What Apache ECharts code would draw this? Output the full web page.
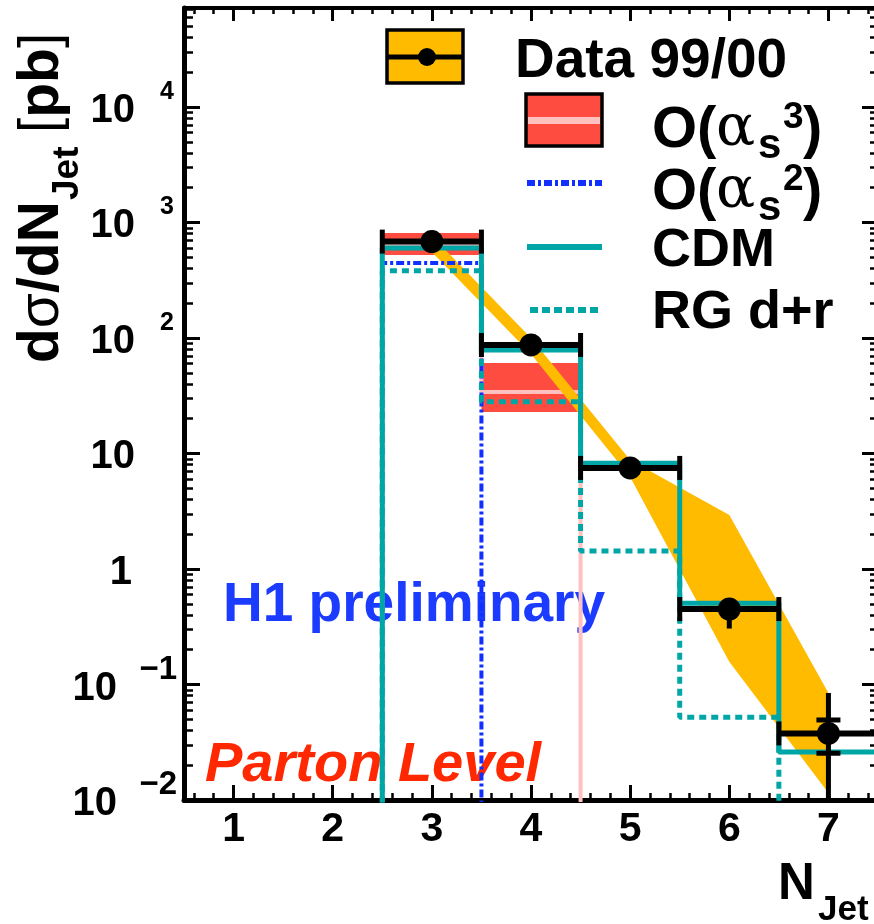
<!DOCTYPE html>
<html>
<head>
<meta charset="utf-8">
<script src="https://cdn.jsdelivr.net/npm/echarts@6/dist/echarts.min.js"></script>
<style>
html,body{margin:0;padding:0;background:#fff;}
#chart{width:874px;height:924px;}
</style>
</head>
<body>
<div id="chart"></div>
<script>
// ---- data ----
const binEdges = [2.5, 3.5, 4.5, 5.5, 6.5, 7.5];
const nJet = [3, 4, 5, 6, 7];
const dataY = [683, 87, 7.5, 0.45, 0.0377];
const dataTotLo = [655, 83, 7.1, 0.305, 0.001];
const dataTotHi = [712, 91, 7.9, 0.56, 0.0845];
const dataStatLo = [null, null, null, null, 0.0254];
const dataStatHi = [null, null, null, null, 0.0493];
const bandLo = [556, 72.6, 6.27, 0.157, 0.0115];
const bandHi = [764, 100, 8.8, 2.94, 0.0845];
const as3Lo = [524, 22.9, 0, 0, 0];
const as3Hi = [811, 60.8, 0, 0, 0];
const as3Mid = [651, 34, 0, 0, 0];
const as2 = [447, 0, 0, 0, 0];
const cdm = [601, 78.7, 8.24, 0.505, 0.026];
const rgdr = [383, 28.1, 1.43, 0.052, 0];
const xTickVals = [1, 2, 3, 4, 5, 6, 7];
const yTickVals = [0.01, 0.1, 1, 10, 100, 1000, 10000];

// ---- styling ----
const FONT = '"Liberation Sans", Arial, Helvetica, sans-serif';
const C_YEL = '#FFBB00', C_RED = '#FF4C40', C_PINK = '#FFC0C0', C_TEAL = '#00A6A6', C_BLUE = '#1030FF';
const YMIN = 0.01, YMAX = 71945, XMIN = 0.5, XMAX = 7.5;

// minor tick positions (axis decoration)
const yMinor = [];
for (let k = -2; k <= 4; k++) for (let m = 2; m <= 9; m++) { const v = m * Math.pow(10, k); if (v < YMAX) yMinor.push(v); }
const xMinor = [];
for (let i = 0; i < 35; i++) { const v = Math.round((0.6 + i * 0.2) * 10) / 10; if (v < XMAX && Math.abs(v - Math.round(v)) > 1e-6) xMinor.push(v); }

const FLOOR = 1e-4;
function stepPoints(vals) {
  const pts = [[binEdges[0], FLOOR]];
  vals.forEach((v, i) => { const y = v > 0 ? v : FLOOR; pts.push([binEdges[i], y], [binEdges[i + 1], y]); });
  pts.push([binEdges[binEdges.length - 1], FLOOR]);
  return pts;
}

function yLabel(v) {
  const e = Math.round(Math.log10(v));
  if (e === 0) return '{u|1}';
  if (e === 1) return '{t0|10}';
  if (e > 0) return '{e|' + e + '}\n{t|10}';
  return '{en|\u2212' + (-e) + '}\n{tn|10}';
}

function txt(x, y, text, font, extra) {
  return Object.assign({ type: 'text', x: x, y: y, silent: true,
    style: { text: text, font: font, fill: '#000', align: 'left', verticalAlign: 'middle', textAlign: 'left', textVerticalAlign: 'middle' } }, extra || {});
}

const chart = echarts.init(document.getElementById('chart'), null, { renderer: 'canvas' });

const grid = { left: 184, top: 8, width: 694, height: 792, outerBoundsMode: 'none', containLabel: false };

const baseX = { type: 'value', min: XMIN, max: XMAX, splitLine: { show: false }, gridIndex: 0 };
const baseY = { type: 'log', logBase: 10, min: YMIN, max: YMAX, splitLine: { show: false }, gridIndex: 0 };

const option = {
  animation: false,
  backgroundColor: '#ffffff',
  grid: grid,
  xAxis: [
    Object.assign({}, baseX, {
      position: 'bottom',
      axisLine: { show: true, onZero: false, lineStyle: { color: '#000', width: 5 } },
      axisTick: { show: true, inside: true, length: 15, lineStyle: { color: '#000', width: 3 }, customValues: xTickVals },
      axisLabel: { show: true, customValues: xTickVals, margin: 9, color: '#000', fontFamily: FONT, fontWeight: 'bold', fontSize: 41, lineHeight: 41, hideOverlap: false }
    }),
    Object.assign({}, baseX, {
      position: 'bottom',
      axisLine: { show: false, onZero: false },
      axisTick: { show: true, inside: true, length: 7, lineStyle: { color: '#000', width: 2.5 }, customValues: xMinor },
      axisLabel: { show: false }
    }),
    Object.assign({}, baseX, {
      position: 'top',
      axisLine: { show: true, onZero: false, lineStyle: { color: '#000', width: 4 } },
      axisTick: { show: true, inside: true, length: 13, lineStyle: { color: '#000', width: 3 }, customValues: xTickVals },
      axisLabel: { show: false }
    }),
    Object.assign({}, baseX, {
      position: 'top',
      axisLine: { show: false, onZero: false },
      axisTick: { show: true, inside: true, length: 6, lineStyle: { color: '#000', width: 2.5 }, customValues: xMinor },
      axisLabel: { show: false }
    })
  ],
  yAxis: [
    Object.assign({}, baseY, {
      position: 'left',
      axisLine: { show: true, onZero: false, lineStyle: { color: '#000', width: 5 } },
      axisTick: { show: true, inside: true, length: 16, lineStyle: { color: '#000', width: 3 }, customValues: yTickVals },
      axisLabel: {
        show: true, customValues: yTickVals, margin: 6, hideOverlap: false,
        formatter: yLabel, color: '#000', fontFamily: FONT, fontWeight: 'bold', fontSize: 40,
        rich: {
          e:  { fontFamily: FONT, fontWeight: 'bold', fontSize: 25, lineHeight: 9, align: 'right', padding: [0, 4, 0, 0], color: '#000' },
          t:  { fontFamily: FONT, fontWeight: 'bold', fontSize: 40, lineHeight: 30, align: 'right', padding: [0, 43, 2, 0], color: '#000' },
          en: { fontFamily: FONT, fontWeight: 'bold', fontSize: 33, lineHeight: 46, align: 'right', padding: [0, 1, 0, 0], color: '#000' },
          tn: { fontFamily: FONT, fontWeight: 'bold', fontSize: 40, lineHeight: 30, align: 'right', padding: [0, 61, 38, 0], color: '#000' },
          t0: { fontFamily: FONT, fontWeight: 'bold', fontSize: 40, lineHeight: 30, align: 'right', padding: [7, 43, 0, 0], color: '#000' },
          u:  { fontFamily: FONT, fontWeight: 'bold', fontSize: 40, lineHeight: 30, align: 'right', padding: [7, 46, 0, 0], color: '#000' }
        }
      }
    }),
    Object.assign({}, baseY, {
      position: 'left',
      axisLine: { show: false, onZero: false },
      axisTick: { show: true, inside: true, length: 9, lineStyle: { color: '#000', width: 2.5 }, customValues: yMinor },
      axisLabel: { show: false }
    }),
    Object.assign({}, baseY, {
      position: 'right',
      axisLine: { show: true, onZero: false, lineStyle: { color: '#000', width: 4 } },
      axisTick: { show: true, inside: true, length: 16, lineStyle: { color: '#000', width: 3 }, customValues: yTickVals },
      axisLabel: { show: false }
    }),
    Object.assign({}, baseY, {
      position: 'right',
      axisLine: { show: false, onZero: false },
      axisTick: { show: true, inside: true, length: 8, lineStyle: { color: '#000', width: 2.5 }, customValues: yMinor },
      axisLabel: { show: false }
    })
  ],
  series: [
    // O(alpha_s^3) uncertainty band
    {
      type: 'custom', name: 'as3band', z: 2, clip: true,
      data: as3Hi.map((h, i) => [binEdges[i], binEdges[i + 1], as3Lo[i], h]).filter(r => r[3] > 0),
      encode: { x: [0, 1], y: [2, 3] },
      renderItem: function (params, api) {
        const p0 = api.coord([api.value(0), api.value(3)]);
        const p1 = api.coord([api.value(1), api.value(2)]);
        return { type: 'rect', shape: { x: p0[0], y: p0[1], width: p1[0] - p0[0], height: p1[1] - p0[1] }, style: { fill: C_RED } };
      }
    },
    // O(alpha_s^3) central
    {
      type: 'line', name: 'as3mid', z: 3, data: stepPoints(as3Mid), showSymbol: false, symbol: 'none', clip: true,
      lineStyle: { color: C_PINK, width: 4 }
    },
    // data systematic band
    {
      type: 'custom', name: 'band', z: 4, clip: true,
      data: nJet.map((x, i) => [x, bandLo[i], bandHi[i]]),
      encode: { x: 0, y: [1, 2] },
      renderItem: function (params, api) {
        if (params.dataIndex !== 0) return null;
        const pts = [];
        for (let i = 0; i < nJet.length; i++) pts.push(api.coord([nJet[i], bandHi[i]]));
        for (let i = nJet.length - 1; i >= 0; i--) pts.push(api.coord([nJet[i], bandLo[i]]));
        return { type: 'polygon', shape: { points: pts }, style: { fill: C_YEL } };
      }
    },
    // O(alpha_s^2)
    {
      type: 'line', name: 'as2', z: 5, data: stepPoints(as2), showSymbol: false, symbol: 'none', clip: true,
      lineStyle: { color: C_BLUE, width: 4, type: [8, 3, 3, 3] }
    },
    // RG d+r
    {
      type: 'line', name: 'rg', z: 6, data: stepPoints(rgdr), showSymbol: false, symbol: 'none', clip: true,
      lineStyle: { color: C_TEAL, width: 5, type: [7, 5] }
    },
    // CDM
    {
      type: 'line', name: 'cdm', z: 7, data: stepPoints(cdm), showSymbol: false, symbol: 'none', clip: true,
      lineStyle: { color: C_TEAL, width: 5 }
    },
    // data error bars
    {
      type: 'custom', name: 'dataerr', z: 8, clip: true,
      data: nJet.map((x, i) => [x, dataY[i], binEdges[i], binEdges[i + 1], dataTotLo[i], dataTotHi[i]]),
      encode: { x: [0, 2, 3], y: [1, 4, 5] },
      renderItem: function (params, api) {
        const i = params.dataIndex;
        const c = api.coord([nJet[i], dataY[i]]);
        const l = api.coord([binEdges[i], dataY[i]]);
        const r = api.coord([binEdges[i + 1], dataY[i]]);
        const lo = api.coord([nJet[i], dataTotLo[i]]);
        const hi = api.coord([nJet[i], dataTotHi[i]]);
        const ch = [
          { type: 'line', shape: { x1: l[0], y1: c[1], x2: r[0], y2: c[1] }, style: { stroke: '#000', lineWidth: 6 } },
          { type: 'line', shape: { x1: l[0], y1: c[1] - 12, x2: l[0], y2: c[1] + 12 }, style: { stroke: '#000', lineWidth: 5 } },
          { type: 'line', shape: { x1: r[0], y1: c[1] - 12, x2: r[0], y2: c[1] + 12 }, style: { stroke: '#000', lineWidth: 5 } },
          { type: 'line', shape: { x1: c[0], y1: hi[1], x2: c[0], y2: lo[1] }, style: { stroke: '#000', lineWidth: 5 } }
        ];
        if (dataStatLo[i] != null) {
          const sl = api.coord([nJet[i], dataStatLo[i]]);
          const sh = api.coord([nJet[i], dataStatHi[i]]);
          ch.push({ type: 'line', shape: { x1: c[0] - 12, y1: sl[1], x2: c[0] + 12, y2: sl[1] }, style: { stroke: '#000', lineWidth: 5 } });
          ch.push({ type: 'line', shape: { x1: c[0] - 12, y1: sh[1], x2: c[0] + 12, y2: sh[1] }, style: { stroke: '#000', lineWidth: 5 } });
        }
        return { type: 'group', children: ch };
      }
    },
    // data points
    {
      type: 'scatter', name: 'data', z: 9, symbol: 'circle', symbolSize: 23,
      data: nJet.map((x, i) => [x, dataY[i]]),
      itemStyle: { color: '#000', opacity: 1 }
    }
  ],
  graphic: [
    // texts inside the plot
    { type: 'text', x: 223, y: 606, z: 1, silent: true,
      style: { text: 'H1 preliminary', font: 'bold 55px ' + FONT, fill: '#1B3BFF', align: 'left', verticalAlign: 'middle', textAlign: 'left', textVerticalAlign: 'middle' } },
    { type: 'text', x: 205, y: 766, z: 1, silent: true,
      style: { text: 'Parton Level', font: 'italic bold 56px ' + FONT, fill: '#FF2800', align: 'left', verticalAlign: 'middle', textAlign: 'left', textVerticalAlign: 'middle' } },
    // y axis title (rotated pieces)
    { type: 'text', x: 42, y: 363, rotation: Math.PI / 2, z: 50, silent: true,
      style: {
        text: '{m|d}{g|\u03C3}{m|/dN}',
        font: 'bold 57px ' + FONT, fill: '#000', align: 'left', verticalAlign: 'middle', textAlign: 'left', textVerticalAlign: 'middle',
        rich: {
          m: { fontFamily: FONT, fontWeight: 'bold', fontSize: 57, fill: '#000' },
          g: { fontFamily: FONT, fontWeight: 'normal', fontSize: 57, fill: '#000' }
        }
      } },
    txt(68, 200, 'Jet', 'bold 37px ' + FONT, { rotation: Math.PI / 2, z: 50 }),
    { type: 'text', x: 42, y: 133, rotation: Math.PI / 2, z: 50, silent: true,
      style: {
        text: '{br|[}{m|pb}{br|]}',
        font: 'bold 57px ' + FONT, fill: '#000', align: 'left', verticalAlign: 'middle', textAlign: 'left', textVerticalAlign: 'middle',
        rich: {
          m: { fontFamily: FONT, fontWeight: 'bold', fontSize: 57, fill: '#000' },
          br: { fontFamily: FONT, fontWeight: 'normal', fontSize: 55, fill: '#000' }
        }
      } },
    // x axis title
    txt(778, 885, 'N', 'bold 51px ' + FONT, { z: 50 }),
    txt(818, 910, 'Jet', 'bold 35px ' + FONT, { z: 50 }),
    // legend
    { type: 'group', z: 100, silent: true, children: [
      { type: 'rect', shape: { x: 387, y: 30, width: 76, height: 53 }, style: { fill: C_YEL, stroke: '#000', lineWidth: 3.5 } },
      { type: 'line', shape: { x1: 387, y1: 57, x2: 463, y2: 57 }, style: { stroke: '#000', lineWidth: 5 } },
      { type: 'circle', shape: { cx: 427, cy: 57, r: 9 }, style: { fill: '#000' } },
      txt(515, 62, 'Data 99/00', 'bold 55px ' + FONT),

      { type: 'rect', shape: { x: 526, y: 94, width: 76, height: 52 }, style: { fill: C_RED, stroke: '#000', lineWidth: 3.5 } },
      { type: 'rect', shape: { x: 528, y: 117, width: 72, height: 7 }, style: { fill: C_PINK } },
      txt(652, 131, 'O(', 'bold 58px ' + FONT),
      txt(716, 130, '\u03B1', '58px "DejaVu Serif", "Liberation Serif", serif'),
      txt(758, 146, 's', 'bold 42px ' + FONT),
      txt(783, 118, '3', 'bold 37px ' + FONT),
      txt(803, 131, ')', 'bold 58px ' + FONT),

      { type: 'line', shape: { x1: 527, y1: 183, x2: 602, y2: 183 }, style: { stroke: C_BLUE, lineWidth: 6, lineDash: [8, 3, 3, 3] } },
      txt(652, 193, 'O(', 'bold 58px ' + FONT),
      txt(716, 192, '\u03B1', '58px "DejaVu Serif", "Liberation Serif", serif'),
      txt(758, 208, 's', 'bold 42px ' + FONT),
      txt(783, 180, '2', 'bold 37px ' + FONT),
      txt(803, 193, ')', 'bold 58px ' + FONT),

      { type: 'line', shape: { x1: 527, y1: 247, x2: 602, y2: 247 }, style: { stroke: C_TEAL, lineWidth: 6 } },
      txt(652, 251, 'CDM', 'bold 54px ' + FONT),

      { type: 'line', shape: { x1: 530, y1: 310, x2: 602, y2: 310 }, style: { stroke: C_TEAL, lineWidth: 6, lineDash: [8, 4] } },
      txt(652, 313, 'RG d+r', 'bold 54px ' + FONT)
    ] }
  ]
};

chart.setOption(option);
</script>
</body>
</html>
